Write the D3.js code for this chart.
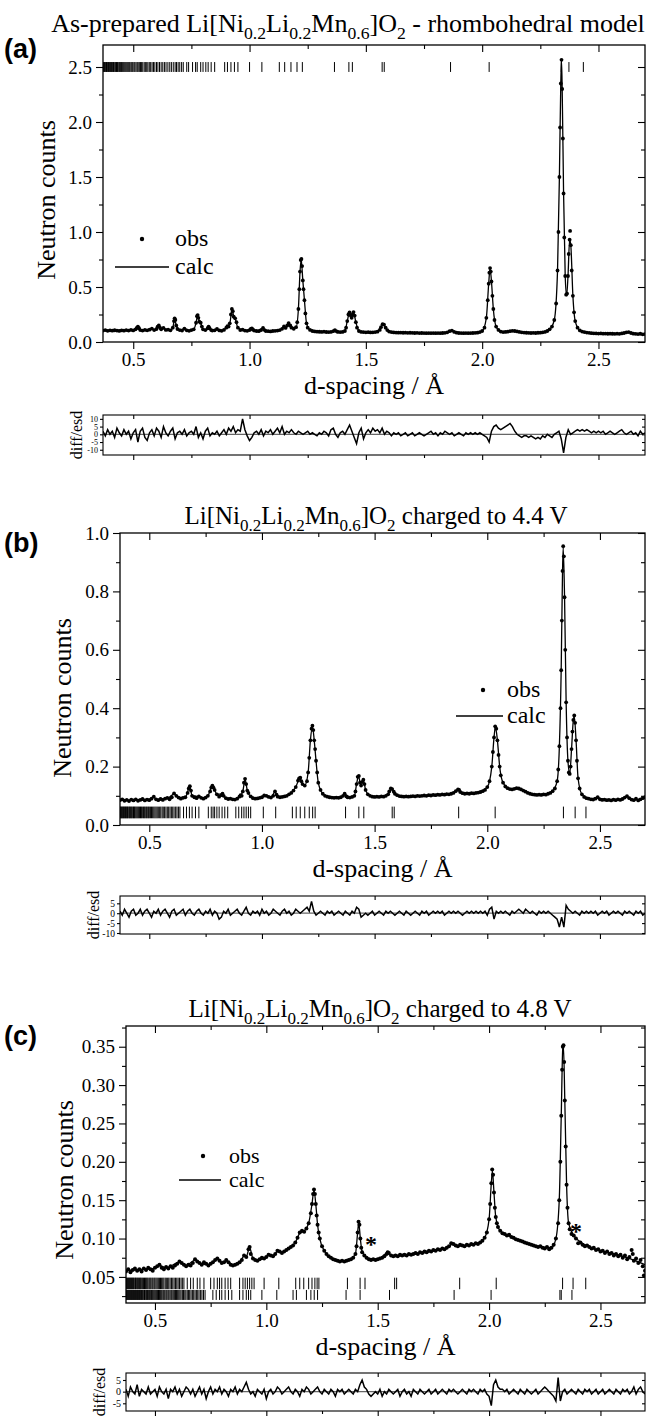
<!DOCTYPE html>
<html><head><meta charset="utf-8">
<script src="https://cdn.jsdelivr.net/npm/d3@7"></script>
<style>body{margin:0;background:#fff}svg{display:block}</style>
</head><body>
<svg id="chart" width="650" height="1416"></svg>
<script>
// ---------- DATA ----------
const xTickLabels = [0.5, 1.0, 1.5, 2.0, 2.5];
const xMinorTicks = [0.75, 1.25, 1.75, 2.25];

const dGrid = [0.37,0.38,0.39,0.40,0.41,0.42,0.43,0.44,0.45,0.46,0.47,0.48,0.49,0.50,0.51,0.52,0.53,0.54,0.55,0.56,
0.57,0.58,0.59,0.60,0.61,0.62,0.63,0.64,0.65,0.66,0.67,0.68,0.69,0.70,0.71,0.72,0.73,0.74,0.75,0.76,
0.77,0.78,0.79,0.80,0.81,0.82,0.83,0.84,0.85,0.86,0.87,0.88,0.89,0.90,0.91,0.92,0.93,0.94,0.95,0.96,
0.97,0.98,0.99,1.00,1.01,1.02,1.03,1.04,1.05,1.06,1.07,1.08,1.09,1.10,1.11,1.12,1.13,1.14,1.15,1.16,
1.17,1.18,1.19,1.20,1.21,1.22,1.23,1.24,1.25,1.26,1.27,1.28,1.29,1.30,1.31,1.32,1.33,1.34,1.35,1.36,
1.37,1.38,1.39,1.40,1.41,1.42,1.43,1.44,1.45,1.46,1.47,1.48,1.49,1.50,1.51,1.52,1.53,1.54,1.55,1.56,
1.57,1.58,1.59,1.60,1.61,1.62,1.63,1.64,1.65,1.66,1.67,1.68,1.69,1.70,1.71,1.72,1.73,1.74,1.75,1.76,
1.77,1.78,1.79,1.80,1.81,1.82,1.83,1.84,1.85,1.86,1.87,1.88,1.89,1.90,1.91,1.92,1.93,1.94,1.95,1.96,
1.97,1.98,1.99,2.00,2.01,2.02,2.03,2.04,2.05,2.06,2.07,2.08,2.09,2.10,2.11,2.12,2.13,2.14,2.15,2.16,
2.17,2.18,2.19,2.20,2.21,2.22,2.23,2.24,2.25,2.26,2.27,2.28,2.29,2.30,2.31,2.32,2.33,2.34,2.35,2.36,
2.37,2.38,2.39,2.40,2.41,2.42,2.43,2.44,2.45,2.46,2.47,2.48,2.49,2.50,2.51,2.52,2.53,2.54,2.55,2.56,
2.57,2.58,2.59,2.60,2.61,2.62,2.63,2.64,2.65,2.66,2.67,2.68,2.69,2.70];

// Panel (a) observed [d, counts]
const obsA = [[0.37,.104],[0.38,.108],[0.39,.102],[0.40,.106],[0.41,.103],[0.42,.107],[0.43,.104],[0.44,.101],[0.45,.106],[0.46,.103],[0.47,.108],[0.48,.104],[0.49,.11],[0.50,.105],[0.51,.115],[0.515,.128],[0.52,.14],[0.525,.125],[0.53,.108],[0.54,.104],[0.55,.11],[0.56,.106],[0.57,.112],[0.58,.122],[0.59,.108],[0.60,.118],[0.605,.14],[0.61,.15],[0.615,.13],[0.62,.116],[0.63,.128],[0.64,.11],[0.65,.112],[0.66,.106],[0.67,.13],[0.675,.19],[0.678,.215],[0.681,.2],[0.685,.15],[0.69,.118],[0.70,.108],[0.71,.104],[0.72,.122],[0.73,.106],[0.74,.102],[0.75,.108],[0.76,.115],[0.77,.175],[0.774,.235],[0.777,.245],[0.78,.22],[0.784,.185],[0.79,.175],[0.795,.14],[0.80,.115],[0.81,.108],[0.82,.125],[0.824,.14],[0.828,.125],[0.835,.108],[0.84,.104],[0.85,.106],[0.86,.118],[0.87,.105],[0.88,.102],[0.89,.11],[0.90,.13],[0.905,.145],[0.91,.14],[0.915,.17],[0.92,.25],[0.924,.3],[0.928,.28],[0.932,.23],[0.938,.215],[0.944,.18],[0.95,.13],[0.96,.108],[0.97,.112],[0.98,.104],[0.99,.102],[1.00,.108],[1.005,.118],[1.01,.124],[1.015,.112],[1.02,.104],[1.03,.1],[1.04,.098],[1.05,.108],[1.058,.128],[1.065,.108],[1.07,.1],[1.08,.098],[1.09,.096],[1.10,.1],[1.11,.102],[1.12,.104],[1.13,.108],[1.14,.12],[1.148,.142],[1.155,.128],[1.162,.15],[1.168,.172],[1.175,.15],[1.18,.13],[1.19,.12],[1.20,.135],[1.205,.18],[1.21,.3],[1.214,.48],[1.217,.64],[1.22,.745],[1.223,.755],[1.226,.69],[1.229,.56],[1.232,.48],[1.236,.38],[1.24,.26],[1.245,.17],[1.25,.13],[1.26,.11],[1.27,.1],[1.28,.096],[1.29,.094],[1.30,.093],[1.31,.092],[1.32,.094],[1.33,.091],[1.34,.09],[1.35,.092],[1.36,.098],[1.367,.108],[1.375,.096],[1.38,.092],[1.39,.09],[1.40,.092],[1.41,.1],[1.415,.13],[1.42,.19],[1.425,.25],[1.43,.27],[1.435,.24],[1.439,.22],[1.443,.25],[1.447,.272],[1.452,.24],[1.457,.18],[1.462,.13],[1.47,.1],[1.48,.092],[1.49,.09],[1.50,.088],[1.51,.089],[1.52,.087],[1.53,.088],[1.54,.09],[1.55,.094],[1.56,.11],[1.565,.135],[1.572,.162],[1.578,.158],[1.585,.13],[1.592,.108],[1.60,.095],[1.61,.09],[1.62,.087],[1.63,.086],[1.64,.085],[1.65,.086],[1.66,.084],[1.67,.085],[1.68,.083],[1.69,.084],[1.70,.083],[1.71,.082],[1.72,.083],[1.73,.081],[1.74,.082],[1.75,.081],[1.76,.08],[1.77,.081],[1.78,.08],[1.79,.081],[1.80,.08],[1.81,.081],[1.82,.08],[1.83,.082],[1.84,.083],[1.85,.088],[1.86,.098],[1.87,.104],[1.88,.092],[1.89,.085],[1.90,.082],[1.91,.081],[1.92,.08],[1.93,.081],[1.94,.08],[1.95,.081],[1.96,.082],[1.97,.083],[1.98,.085],[1.99,.09],[2.00,.1],[2.01,.13],[2.018,.22],[2.024,.38],[2.028,.53],[2.031,.63],[2.034,.672],[2.037,.64],[2.04,.55],[2.044,.42],[2.048,.3],[2.053,.2],[2.06,.14],[2.07,.11],[2.08,.095],[2.09,.09],[2.10,.092],[2.11,.094],[2.12,.098],[2.13,.102],[2.14,.1],[2.15,.096],[2.16,.092],[2.17,.088],[2.18,.086],[2.19,.084],[2.20,.083],[2.21,.082],[2.22,.083],[2.23,.082],[2.24,.084],[2.25,.085],[2.26,.088],[2.27,.092],[2.28,.1],[2.29,.115],[2.30,.14],[2.31,.2],[2.318,.35],[2.324,.65],[2.328,1.0],[2.332,1.5],[2.335,1.95],[2.338,2.35],[2.341,2.565],[2.344,2.3],[2.347,1.85],[2.35,1.35],[2.353,.95],[2.357,.6],[2.361,.43],[2.365,.44],[2.369,.6],[2.372,.8],[2.376,.93],[2.378,1.01],[2.381,.88],[2.385,.65],[2.39,.42],[2.395,.27],[2.40,.19],[2.41,.13],[2.42,.105],[2.43,.095],[2.44,.09],[2.45,.086],[2.46,.083],[2.47,.08],[2.48,.079],[2.49,.078],[2.50,.077],[2.51,.078],[2.52,.076],[2.53,.077],[2.54,.075],[2.55,.076],[2.56,.075],[2.57,.074],[2.58,.076],[2.59,.074],[2.60,.078],[2.61,.082],[2.62,.088],[2.63,.09],[2.64,.082],[2.65,.076],[2.66,.074],[2.67,.072],[2.68,.075],[2.69,.07],[2.70,.072]];

const calcA = [[0.37,.105],[0.40,.105],[0.45,.105],[0.50,.106],[0.51,.112],[0.52,.138],[0.53,.11],[0.56,.106],[0.58,.12],[0.59,.108],[0.60,.115],[0.61,.148],[0.62,.118],[0.63,.126],[0.64,.11],[0.66,.107],[0.67,.128],[0.678,.212],[0.685,.15],[0.70,.108],[0.72,.12],[0.74,.104],[0.76,.114],[0.77,.175],[0.777,.243],[0.784,.188],[0.79,.172],[0.80,.116],[0.815,.11],[0.824,.138],[0.835,.108],[0.86,.116],[0.88,.104],[0.90,.128],[0.905,.143],[0.915,.168],[0.925,.298],[0.932,.232],[0.938,.214],[0.95,.13],[0.97,.11],[0.99,.103],[1.01,.122],[1.03,.1],[1.058,.126],[1.07,.1],[1.10,.1],[1.13,.108],[1.148,.14],[1.155,.13],[1.168,.17],[1.18,.13],[1.20,.134],[1.21,.3],[1.217,.64],[1.222,.752],[1.229,.56],[1.236,.38],[1.245,.17],[1.26,.11],[1.30,.093],[1.35,.092],[1.367,.106],[1.39,.09],[1.41,.1],[1.42,.19],[1.43,.268],[1.439,.22],[1.447,.27],[1.457,.18],[1.47,.1],[1.50,.088],[1.55,.094],[1.565,.135],[1.575,.16],[1.592,.108],[1.62,.087],[1.70,.083],[1.80,.08],[1.85,.088],[1.87,.102],[1.89,.085],[1.95,.081],[2.00,.1],[2.018,.22],[2.028,.53],[2.034,.67],[2.04,.55],[2.048,.3],[2.06,.14],[2.08,.095],[2.13,.1],[2.18,.086],[2.25,.085],[2.29,.115],[2.31,.2],[2.324,.65],[2.332,1.5],[2.338,2.35],[2.341,2.56],[2.344,2.3],[2.35,1.35],[2.357,.6],[2.363,.42],[2.369,.6],[2.376,.93],[2.381,.88],[2.39,.42],[2.40,.19],[2.42,.105],[2.45,.086],[2.50,.077],[2.60,.077],[2.63,.09],[2.65,.076],[2.70,.072]];

const diffA = [2,-1,3,0,2,-2,4,1,-1,3, 0,2,-3,1,3,-5,2,4,-2,-4, 1,3,-1,4,2,-2,5,1,-1,2, 4,-3,1,2,0,3,-1,1,2,0,
5,-2,1,-3,2,4,-1,1,0,2, -1,1,3,0,4,2,5,1,3,2, 10,3,-1,-4,-2,1,2,0,3,-1, 2,1,3,0,2,4,1,5,0,2,
1,3,1,0,2,1,0,1,2,0, 1,0,-1,1,0,2,1,-1,3,4, 0,-2,1,2,0,3,6,2,-2,-6, 1,4,-3,1,3,1,4,2,3,1,
4,0,2,1,-1,1,0,1,-1,0, 1,-1,0,1,-1,0,1,0,-1,0, 1,2,0,1,-1,1,0,2,1,0, 1,-1,0,1,0,-1,1,0,1,0,
1,0,1,0,-1,-2,-5,2,5,6, 4,3,4,5,6,7,5,2,0,-1, -2,-1,-1,-2,-1,-2,-3,-2,-3,-1, -2,0,-1,-2,0,1,2,-3,-12,-2,
3,0,1,2,3,2,3,2,3,2, 1,2,1,2,1,2,0,1,2,1, 0,1,2,3,1,0,1,2,0,1, -1,2,0,1];

const reflA = [0.370,0.373,0.376,0.379,0.382,0.385,0.388,0.391,0.394,0.397,0.400,0.403,0.406,0.409,0.412,0.415,0.418,0.422,0.425,0.428,0.432,0.435,0.439,0.442,0.446,0.449,0.453,0.457,0.461,0.465,0.469,0.473,0.477,0.481,0.485,0.49,0.494,0.498,0.503,0.507,0.512,0.517,0.521,0.526,0.531,0.536,0.541,0.547,0.552,0.558,0.563,0.569,0.575,0.581,0.587,0.593,0.6,0.606,0.613,0.62,0.627,0.634,0.641,0.649,0.657,0.664,0.672,0.68,0.686,0.693,0.70,0.708,0.715,0.73,0.738,0.755,0.768,0.775,0.79,0.80,0.812,0.822,0.835,0.85,0.893,0.905,0.92,0.935,0.95,1.0,1.053,1.128,1.151,1.178,1.204,1.227,1.365,1.427,1.442,1.57,1.579,1.864,2.03,2.34,2.373,2.435];

// Panel (b)
const obsB = [[0.37,.085],[0.38,.088],[0.39,.083],[0.40,.086],[0.41,.082],[0.42,.087],[0.43,.084],[0.44,.088],[0.45,.083],[0.46,.086],[0.47,.089],[0.48,.084],[0.49,.087],[0.50,.085],[0.51,.09],[0.52,.097],[0.53,.088],[0.54,.085],[0.55,.089],[0.56,.086],[0.57,.09],[0.58,.093],[0.59,.088],[0.60,.095],[0.61,.108],[0.62,.1],[0.63,.094],[0.64,.09],[0.65,.093],[0.66,.095],[0.67,.11],[0.675,.125],[0.68,.133],[0.685,.118],[0.69,.1],[0.70,.095],[0.71,.092],[0.72,.098],[0.73,.093],[0.74,.09],[0.75,.094],[0.76,.1],[0.77,.115],[0.775,.128],[0.78,.135],[0.785,.128],[0.79,.12],[0.80,.105],[0.81,.097],[0.82,.102],[0.825,.107],[0.83,.1],[0.84,.092],[0.85,.089],[0.86,.09],[0.87,.088],[0.88,.087],[0.89,.09],[0.90,.097],[0.905,.102],[0.91,.1],[0.915,.115],[0.92,.145],[0.925,.158],[0.93,.14],[0.935,.118],[0.94,.11],[0.95,.098],[0.96,.092],[0.97,.09],[0.98,.091],[0.99,.093],[1.00,.095],[1.01,.101],[1.02,.1],[1.03,.096],[1.04,.094],[1.05,.1],[1.058,.115],[1.065,.104],[1.07,.097],[1.08,.095],[1.09,.096],[1.10,.098],[1.11,.1],[1.12,.105],[1.13,.11],[1.14,.118],[1.15,.13],[1.16,.152],[1.165,.16],[1.17,.162],[1.175,.15],[1.18,.14],[1.19,.135],[1.20,.15],[1.205,.18],[1.21,.23],[1.215,.29],[1.22,.33],[1.224,.34],[1.228,.325],[1.232,.29],[1.236,.26],[1.24,.22],[1.245,.18],[1.25,.145],[1.26,.12],[1.27,.107],[1.28,.1],[1.29,.097],[1.30,.095],[1.31,.094],[1.32,.093],[1.33,.094],[1.34,.093],[1.35,.095],[1.36,.1],[1.367,.107],[1.375,.098],[1.38,.095],[1.39,.094],[1.40,.096],[1.41,.1],[1.415,.115],[1.42,.14],[1.425,.165],[1.43,.168],[1.435,.145],[1.44,.135],[1.445,.148],[1.45,.155],[1.455,.14],[1.46,.12],[1.47,.105],[1.48,.1],[1.49,.097],[1.50,.096],[1.51,.097],[1.52,.096],[1.53,.098],[1.54,.097],[1.55,.1],[1.56,.105],[1.565,.115],[1.572,.125],[1.578,.123],[1.585,.114],[1.59,.107],[1.60,.102],[1.61,.099],[1.62,.098],[1.63,.097],[1.64,.098],[1.65,.097],[1.66,.098],[1.67,.099],[1.68,.098],[1.69,.1],[1.70,.099],[1.71,.1],[1.72,.101],[1.73,.1],[1.74,.102],[1.75,.101],[1.76,.103],[1.77,.102],[1.78,.104],[1.79,.103],[1.80,.105],[1.81,.104],[1.82,.106],[1.83,.105],[1.84,.107],[1.85,.11],[1.86,.116],[1.87,.122],[1.875,.12],[1.88,.113],[1.89,.109],[1.90,.107],[1.91,.108],[1.92,.107],[1.93,.109],[1.94,.108],[1.95,.11],[1.96,.111],[1.97,.113],[1.98,.116],[1.99,.12],[2.00,.13],[2.01,.15],[2.02,.2],[2.025,.25],[2.03,.3],[2.035,.338],[2.04,.33],[2.045,.29],[2.05,.24],[2.055,.2],[2.06,.17],[2.07,.145],[2.08,.132],[2.09,.126],[2.10,.123],[2.11,.122],[2.12,.124],[2.13,.126],[2.14,.125],[2.15,.122],[2.16,.118],[2.17,.114],[2.18,.11],[2.19,.107],[2.20,.105],[2.21,.104],[2.22,.103],[2.23,.104],[2.24,.103],[2.25,.105],[2.26,.104],[2.27,.107],[2.28,.11],[2.29,.116],[2.30,.125],[2.31,.15],[2.315,.19],[2.32,.27],[2.325,.4],[2.328,.53],[2.331,.7],[2.334,.87],[2.337,.955],[2.34,.92],[2.343,.78],[2.346,.6],[2.35,.42],[2.354,.3],[2.358,.22],[2.362,.18],[2.366,.175],[2.37,.2],[2.374,.26],[2.378,.32],[2.382,.36],[2.386,.375],[2.39,.35],[2.394,.29],[2.398,.22],[2.403,.16],[2.41,.125],[2.42,.105],[2.43,.096],[2.44,.092],[2.45,.09],[2.46,.088],[2.47,.087],[2.48,.09],[2.49,.095],[2.50,.088],[2.51,.086],[2.52,.087],[2.53,.085],[2.54,.086],[2.55,.084],[2.56,.087],[2.57,.085],[2.58,.088],[2.59,.086],[2.60,.089],[2.61,.094],[2.62,.099],[2.63,.092],[2.64,.087],[2.65,.085],[2.66,.09],[2.67,.084],[2.68,.088],[2.69,.092],[2.70,.095]];

const calcB = [[0.37,.085],[0.45,.085],[0.51,.089],[0.52,.096],[0.53,.088],[0.58,.091],[0.61,.106],[0.63,.094],[0.66,.095],[0.68,.132],[0.69,.1],[0.72,.097],[0.74,.092],[0.76,.1],[0.78,.134],[0.79,.12],[0.80,.105],[0.825,.106],[0.84,.092],[0.88,.088],[0.905,.101],[0.915,.115],[0.925,.156],[0.935,.118],[0.95,.098],[0.98,.092],[1.01,.1],[1.04,.095],[1.058,.113],[1.07,.097],[1.10,.098],[1.13,.11],[1.15,.13],[1.168,.16],[1.18,.14],[1.19,.136],[1.205,.18],[1.215,.29],[1.224,.338],[1.232,.29],[1.24,.22],[1.25,.145],[1.27,.107],[1.30,.095],[1.35,.095],[1.367,.106],[1.39,.094],[1.41,.1],[1.42,.14],[1.428,.167],[1.44,.135],[1.45,.154],[1.46,.12],[1.48,.1],[1.52,.096],[1.56,.105],[1.575,.124],[1.59,.107],[1.63,.097],[1.70,.099],[1.80,.104],[1.85,.11],[1.87,.121],[1.89,.109],[1.95,.11],[2.00,.13],[2.02,.2],[2.03,.3],[2.036,.336],[2.045,.29],[2.055,.2],[2.07,.145],[2.10,.123],[2.13,.126],[2.17,.114],[2.21,.104],[2.26,.105],[2.29,.116],[2.31,.15],[2.32,.27],[2.328,.53],[2.334,.87],[2.337,.95],[2.343,.78],[2.35,.42],[2.358,.22],[2.366,.175],[2.374,.26],[2.382,.36],[2.386,.372],[2.394,.29],[2.403,.16],[2.42,.105],[2.45,.09],[2.49,.093],[2.52,.087],[2.60,.088],[2.62,.097],[2.65,.086],[2.70,.092]];

const diffB = [1,-1,2,0,-2,1,2,-1,0,2, -1,1,2,0,-2,1,0,2,-1,1, 2,0,-2,1,2,-1,0,1,2,-1, 1,2,0,-1,1,2,0,-1,1,0,
2,-1,1,0,-3,-2,1,0,2,-1, 0,1,2,0,-1,1,3,0,-1,1, 0,1,-1,2,0,1,-1,0,2,1, 0,-1,1,2,0,1,-1,0,2,1,
0,1,2,3,1,6,1,-1,0,1, 0,-1,1,0,1,-1,0,1,0,-1, 1,0,-1,1,0,3,2,-2,-1,0, -1,0,1,-1,0,1,0,-1,1,0,
1,0,-1,0,1,0,-1,1,0,-1, 0,1,0,-1,1,0,1,-1,0,1, 0,1,0,1,-1,0,1,0,1,0, 1,0,-1,0,1,0,1,0,1,0,
1,0,1,-1,2,3,-3,1,0,1, 0,1,0,-1,1,0,1,2,1,0, 2,1,0,1,0,-1,1,0,1,0, 1,0,-1,-2,-3,-7,-2,-7,4,2,
1,0,1,0,-1,1,0,1,0,1, 0,1,-1,0,1,0,1,-1,0,1, 0,1,0,-1,1,0,1,0,-1,1, 0,1,-1,0];

const reflB = [0.370,0.373,0.376,0.379,0.382,0.385,0.388,0.391,0.394,0.397,0.400,0.403,0.406,0.41,0.413,0.416,0.42,0.423,0.427,0.43,0.434,0.437,0.441,0.445,0.449,0.453,0.457,0.461,0.465,0.469,0.474,0.478,0.482,0.487,0.491,0.496,0.50,0.505,0.51,0.515,0.52,0.525,0.53,0.535,0.54,0.546,0.551,0.557,0.562,0.568,0.574,0.58,0.586,0.592,0.598,0.604,0.61,0.617,0.623,0.63,0.636,0.652,0.665,0.678,0.69,0.705,0.72,0.762,0.775,0.783,0.79,0.80,0.81,0.823,0.835,0.848,0.884,0.897,0.91,0.92,0.93,0.94,0.95,1.006,1.061,1.135,1.152,1.17,1.19,1.21,1.225,1.236,1.371,1.43,1.452,1.578,1.587,1.873,2.035,2.338,2.39,2.438];

// Panel (c)
const obsC = [[0.37,.057],[0.38,.06],[0.39,.056],[0.40,.059],[0.41,.061],[0.42,.058],[0.43,.06],[0.44,.057],[0.45,.061],[0.46,.059],[0.47,.062],[0.48,.06],[0.49,.058],[0.50,.062],[0.51,.064],[0.52,.066],[0.53,.062],[0.54,.06],[0.55,.063],[0.56,.061],[0.57,.064],[0.58,.062],[0.59,.065],[0.60,.067],[0.61,.07],[0.62,.068],[0.63,.066],[0.64,.064],[0.65,.066],[0.66,.065],[0.67,.068],[0.68,.073],[0.69,.07],[0.70,.068],[0.71,.066],[0.72,.069],[0.73,.067],[0.74,.065],[0.75,.067],[0.76,.069],[0.77,.072],[0.78,.074],[0.79,.071],[0.80,.068],[0.81,.069],[0.82,.072],[0.83,.069],[0.84,.066],[0.85,.065],[0.86,.066],[0.87,.067],[0.88,.069],[0.89,.072],[0.90,.078],[0.91,.076],[0.92,.086],[0.925,.089],[0.93,.08],[0.94,.074],[0.95,.072],[0.96,.071],[0.97,.073],[0.98,.075],[0.99,.074],[1.00,.076],[1.01,.079],[1.02,.078],[1.03,.077],[1.04,.08],[1.05,.084],[1.06,.083],[1.07,.081],[1.08,.083],[1.09,.085],[1.10,.087],[1.11,.089],[1.12,.091],[1.13,.095],[1.14,.101],[1.15,.108],[1.16,.11],[1.17,.109],[1.18,.113],[1.19,.12],[1.20,.133],[1.205,.145],[1.21,.158],[1.214,.164],[1.218,.158],[1.222,.145],[1.226,.13],[1.23,.118],[1.235,.108],[1.24,.1],[1.25,.09],[1.26,.084],[1.27,.08],[1.28,.077],[1.29,.075],[1.30,.073],[1.31,.072],[1.32,.071],[1.33,.07],[1.34,.071],[1.35,.07],[1.36,.071],[1.37,.072],[1.38,.073],[1.39,.075],[1.40,.08],[1.405,.09],[1.41,.108],[1.414,.122],[1.418,.118],[1.422,.1],[1.426,.088],[1.43,.082],[1.44,.078],[1.45,.075],[1.46,.073],[1.47,.072],[1.48,.073],[1.49,.072],[1.50,.073],[1.51,.074],[1.52,.075],[1.53,.077],[1.54,.08],[1.545,.082],[1.55,.081],[1.56,.078],[1.57,.077],[1.58,.078],[1.59,.077],[1.60,.079],[1.61,.078],[1.62,.079],[1.63,.078],[1.64,.08],[1.65,.079],[1.66,.08],[1.67,.081],[1.68,.08],[1.69,.082],[1.70,.081],[1.71,.083],[1.72,.082],[1.73,.084],[1.74,.083],[1.75,.085],[1.76,.084],[1.77,.086],[1.78,.085],[1.79,.087],[1.80,.086],[1.81,.088],[1.82,.09],[1.83,.094],[1.84,.093],[1.85,.091],[1.86,.09],[1.87,.092],[1.88,.091],[1.89,.09],[1.90,.092],[1.91,.091],[1.92,.093],[1.93,.092],[1.94,.094],[1.95,.093],[1.96,.095],[1.97,.097],[1.98,.101],[1.99,.108],[2.00,.125],[2.005,.145],[2.01,.172],[2.014,.19],[2.018,.183],[2.022,.16],[2.026,.14],[2.03,.128],[2.035,.12],[2.04,.115],[2.05,.11],[2.06,.107],[2.07,.106],[2.08,.104],[2.09,.105],[2.10,.102],[2.11,.101],[2.12,.099],[2.13,.098],[2.14,.097],[2.15,.096],[2.16,.095],[2.17,.094],[2.18,.093],[2.19,.092],[2.20,.091],[2.21,.09],[2.22,.089],[2.23,.09],[2.24,.088],[2.25,.087],[2.26,.089],[2.27,.086],[2.28,.088],[2.29,.092],[2.30,.1],[2.31,.12],[2.315,.15],[2.32,.2],[2.324,.26],[2.328,.32],[2.331,.35],[2.334,.352],[2.337,.33],[2.34,.28],[2.344,.22],[2.348,.17],[2.352,.14],[2.357,.12],[2.362,.112],[2.37,.106],[2.38,.104],[2.39,.1],[2.40,.094],[2.41,.095],[2.42,.092],[2.43,.09],[2.44,.091],[2.45,.089],[2.46,.087],[2.47,.088],[2.48,.085],[2.49,.086],[2.50,.083],[2.51,.084],[2.52,.081],[2.53,.083],[2.54,.08],[2.55,.081],[2.56,.078],[2.57,.08],[2.58,.077],[2.59,.079],[2.60,.075],[2.61,.078],[2.62,.073],[2.63,.076],[2.64,.085],[2.645,.08],[2.65,.071],[2.66,.074],[2.67,.068],[2.68,.072],[2.69,.064],[2.695,.052],[2.70,.058]];

const calcC = [[0.37,.058],[0.45,.06],[0.50,.061],[0.52,.065],[0.55,.062],[0.61,.069],[0.64,.065],[0.68,.072],[0.70,.068],[0.74,.066],[0.78,.073],[0.80,.069],[0.82,.071],[0.85,.066],[0.88,.069],[0.90,.077],[0.91,.077],[0.925,.088],[0.94,.074],[0.96,.072],[1.00,.076],[1.01,.079],[1.03,.078],[1.05,.083],[1.07,.082],[1.10,.087],[1.13,.095],[1.15,.107],[1.17,.11],[1.19,.12],[1.205,.145],[1.214,.163],[1.222,.145],[1.23,.118],[1.24,.1],[1.26,.084],[1.29,.075],[1.33,.071],[1.37,.072],[1.40,.08],[1.41,.108],[1.415,.121],[1.422,.1],[1.43,.083],[1.46,.074],[1.50,.073],[1.545,.081],[1.57,.077],[1.65,.079],[1.75,.084],[1.82,.089],[1.835,.093],[1.86,.09],[1.95,.094],[1.98,.101],[2.00,.125],[2.01,.172],[2.015,.188],[2.022,.16],[2.03,.128],[2.05,.11],[2.10,.102],[2.20,.091],[2.28,.088],[2.30,.1],[2.315,.15],[2.324,.26],[2.331,.348],[2.334,.35],[2.34,.28],[2.348,.17],[2.357,.12],[2.38,.104],[2.45,.089],[2.55,.081],[2.62,.075],[2.70,.066]];

const diffC = [1,-2,2,0,-1,3,-2,1,0,-1, 2,-1,0,1,-2,2,0,-1,1,-3, 1,0,2,-1,1,-2,0,2,1,-1, 1,-2,0,2,-1,1,-3,0,2,-1,
1,0,2,-1,1,0,-2,1,0,2, -1,1,0,2,4,1,-1,0,-2,1, 0,-1,1,-3,0,1,-1,0,2,1, -1,0,1,2,0,-1,1,0,-2,1,
0,2,1,-1,0,1,2,0,-1,1, 0,-1,1,0,-2,1,0,1,-1,0, 1,0,-1,1,0,3,5,2,1,-1, -2,-1,0,-1,1,-2,0,-1,1,0,
-1,0,1,-2,0,1,-1,0,-2,1, 0,-1,1,0,-1,0,1,-1,0,1, -1,0,1,0,-1,1,0,1,0,-1, 0,1,0,-1,1,0,1,0,-1,1,
0,1,-1,-2,-6,3,5,2,1,1, 0,1,-1,0,1,0,-1,1,0,-1, 1,0,-1,0,1,-1,0,1,2,1, 0,-1,-2,-4,6,-4,0,1,-1,0,
1,0,-1,1,0,-1,1,0,1,-1, 0,1,-1,0,1,-1,0,1,0,-1, 1,0,-1,1,0,1,-1,0,2,-1, 1,2,0,-1];

const reflC1 = [0.370,0.373,0.376,0.379,0.382,0.385,0.388,0.391,0.394,0.397,0.400,0.403,0.406,0.41,0.413,0.416,0.42,0.423,0.427,0.43,0.434,0.437,0.441,0.445,0.449,0.453,0.457,0.461,0.465,0.469,0.474,0.478,0.482,0.487,0.491,0.496,0.50,0.505,0.51,0.515,0.52,0.525,0.53,0.535,0.54,0.546,0.551,0.557,0.562,0.568,0.574,0.58,0.586,0.592,0.598,0.604,0.61,0.617,0.623,0.63,0.645,0.66,0.672,0.69,0.702,0.72,0.75,0.765,0.78,0.79,0.80,0.815,0.828,0.84,0.88,0.895,0.905,0.915,0.925,0.935,0.945,0.99,1.056,1.132,1.15,1.168,1.19,1.205,1.218,1.228,1.236,1.364,1.421,1.443,1.576,1.585,1.868,2.032,2.33,2.377,2.434];
const reflC2 = [0.370,0.373,0.376,0.379,0.382,0.385,0.388,0.391,0.394,0.397,0.40,0.403,0.406,0.409,0.412,0.415,0.418,0.421,0.424,0.427,0.43,0.433,0.436,0.44,0.443,0.446,0.45,0.453,0.456,0.46,0.463,0.467,0.47,0.474,0.477,0.481,0.485,0.488,0.492,0.496,0.50,0.504,0.508,0.512,0.516,0.52,0.524,0.528,0.532,0.537,0.541,0.545,0.55,0.554,0.559,0.563,0.568,0.573,0.577,0.582,0.587,0.592,0.597,0.602,0.607,0.612,0.617,0.623,0.628,0.634,0.639,0.645,0.651,0.656,0.662,0.668,0.674,0.68,0.686,0.692,0.698,0.705,0.711,0.718,0.725,0.76,0.775,0.79,0.80,0.815,0.83,0.845,0.88,0.895,0.91,0.92,0.93,0.98,1.047,1.12,1.135,1.18,1.2,1.215,1.23,1.358,1.421,1.553,1.843,2.009,2.318,2.324,2.372];

// ---------- LAYOUT ----------
const SERIF = "'Liberation Serif','Times New Roman',serif";
const SANS = "'Liberation Sans',Arial,sans-serif";
const xDomain = [0.37, 2.70];
const svg = d3.select('#chart');

const panels = [
  {key:'a', left:103, right:645, top:45, bottom:342, yDomain:[0,2.7],
   yMajor:[0,0.5,1.0,1.5,2.0,2.5], yMinor:[0.25,0.75,1.25,1.75,2.25], yFmt:'.1f',
   obs:obsA, calc:calcA, diff:diffA, dTop:415, dBottom:455, dDomain:[-13.4,12.5], dTicks:[10,5,0,-5,-10], dFont:8,
   refl:[{list:reflA, y0:2.455, y1:2.545}],
   title:[['As-prepared Li[Ni',0],['0.2',1],['Li',0],['0.2',1],['Mn',0],['0.6',1],[']O',0],['2',1],[' - rhombohedral model',0]],
   titleX:348, titleY:32, titleSize:26, label:'(a)', labelY:58, ylabX:46, ylabY:200,
   legend:{dotX:142, dotY:239, lineX0:115, lineX1:169, lineY:267, textX:175, size:24}, dotR:1.9},
  {key:'b', left:120, right:645, top:533, bottom:825, yDomain:[0,1.0],
   yMajor:[0,0.2,0.4,0.6,0.8,1.0], yMinor:[0.1,0.3,0.5,0.7,0.9], yFmt:'.1f',
   obs:obsB, calc:calcB, diff:diffB, dTop:896, dBottom:934, dDomain:[-10.5,8.7], dTicks:[5,0,-5,-10], dFont:9.5,
   refl:[{list:reflB, y0:0.023, y1:0.063}],
   title:[['Li[Ni',0],['0.2',1],['Li',0],['0.2',1],['Mn',0],['0.6',1],[']O',0],['2',1],[' charged to 4.4 V',0]],
   titleX:376, titleY:524, titleSize:25, label:'(b)', labelY:552, ylabX:62, ylabY:698,
   legend:{dotX:483, dotY:690, lineX0:456, lineX1:503, lineY:716, textX:507, size:24}, dotR:1.9},
  {key:'c', left:126, right:645, top:1026, bottom:1303, yDomain:[0.016,0.377],
   yMajor:[0.05,0.10,0.15,0.20,0.25,0.30,0.35], yMinor:[0.025,0.075,0.125,0.175,0.225,0.275,0.325,0.375], yFmt:'.2f',
   obs:obsC, calc:calcC, diff:diffC, dTop:1373, dBottom:1411, dDomain:[-8.3,8.0], dTicks:[5,0,-5], dFont:10,
   refl:[{list:reflC1, y0:0.034, y1:0.049},{list:reflC2, y0:0.020, y1:0.033}],
   title:[['Li[Ni',0],['0.2',1],['Li',0],['0.2',1],['Mn',0],['0.6',1],[']O',0],['2',1],[' charged to 4.8 V',0]],
   titleX:380, titleY:1017, titleSize:25, label:'(c)', labelY:1045, ylabX:64, ylabY:1180,
   legend:{dotX:203, dotY:1156, lineX0:179, lineX1:221, lineY:1180, textX:229, size:22}, dotR:2.0,
   stars:[[1.47,0.096],[2.39,0.113]]}
];

function styleAxis(g, fontSize) {
  g.select('.domain').remove();
  g.selectAll('line').attr('stroke','#000').attr('stroke-width',1.1);
  g.selectAll('text').attr('font-family',SERIF).attr('font-size',fontSize).attr('fill','#000');
}

panels.forEach(P => {
  const x = d3.scaleLinear().domain(xDomain).range([P.left, P.right]);
  const y = d3.scaleLinear().domain(P.yDomain).range([P.bottom, P.top]);
  const g = svg.append('g');
  const clipId = 'clip-' + P.key;
  svg.append('clipPath').attr('id', clipId).append('rect')
    .attr('x', P.left).attr('y', P.top).attr('width', P.right-P.left).attr('height', P.bottom-P.top);

  // title with subscripts
  const t = g.append('text').attr('x', P.titleX).attr('y', P.titleY).attr('text-anchor','middle')
    .attr('font-family', SERIF).attr('font-size', P.titleSize).attr('fill','#000');
  let sub = false;
  P.title.forEach(([s, isSub]) => {
    const ts = t.append('tspan').text(s);
    if (isSub && !sub) { ts.attr('dy', 7).attr('font-size', P.titleSize*0.68); sub = true; }
    else if (isSub) { ts.attr('font-size', P.titleSize*0.68); }
    else if (!isSub && sub) { ts.attr('dy', -7); sub = false; }
  });

  // panel label
  g.append('text').attr('x', 4).attr('y', P.labelY).attr('font-family', SANS).attr('font-weight','bold')
    .attr('font-size', 27).text(P.label);

  // axes main
  const ax = g.append('g');
  ax.append('g').attr('transform',`translate(0,${P.bottom})`)
    .call(d3.axisBottom(x).tickValues(xTickLabels).tickFormat(d3.format('.1f')).tickSize(7).tickPadding(4))
    .call(s => styleAxis(s, 19));
  ax.append('g').attr('transform',`translate(0,${P.bottom})`)
    .call(d3.axisBottom(x).tickValues(xMinorTicks).tickFormat('').tickSize(4)).call(s => styleAxis(s, 19));
  ax.append('g').attr('transform',`translate(0,${P.top})`)
    .call(d3.axisTop(x).tickValues(xTickLabels).tickFormat('').tickSize(-7)).call(s => styleAxis(s, 19));
  ax.append('g').attr('transform',`translate(0,${P.top})`)
    .call(d3.axisTop(x).tickValues(xMinorTicks).tickFormat('').tickSize(-4)).call(s => styleAxis(s, 19));
  const yMin = P.yMinor.filter(v=>v>=P.yDomain[0]&&v<=P.yDomain[1]);
  ax.append('g').attr('transform',`translate(${P.left},0)`)
    .call(d3.axisLeft(y).tickValues(P.yMajor).tickFormat(d3.format(P.yFmt)).tickSize(7).tickPadding(4))
    .call(s => styleAxis(s, 19));
  ax.append('g').attr('transform',`translate(${P.left},0)`)
    .call(d3.axisLeft(y).tickValues(yMin).tickFormat('').tickSize(4)).call(s => styleAxis(s, 19));
  ax.append('g').attr('transform',`translate(${P.right},0)`)
    .call(d3.axisRight(y).tickValues(P.yMajor).tickFormat('').tickSize(-7)).call(s => styleAxis(s, 19));
  ax.append('g').attr('transform',`translate(${P.right},0)`)
    .call(d3.axisRight(y).tickValues(yMin).tickFormat('').tickSize(-4)).call(s => styleAxis(s, 19));

  // reflection tick marks
  const data = g.append('g').attr('clip-path', `url(#${clipId})`);
  P.refl.forEach(r => {
    data.append('g').selectAll('line').data(r.list).join('line')
      .attr('x1', d => x(d)).attr('x2', d => x(d)).attr('y1', y(r.y0)).attr('y2', y(r.y1))
      .attr('stroke','#000').attr('stroke-width',1);
  });

  // calc line
  const obsSorted = P.obs.slice().sort((a,b)=>a[0]-b[0]);
  data.append('path').datum(P.calc)
    .attr('d', d3.line().x(d=>x(d[0])).y(d=>y(d[1])).curve(d3.curveMonotoneX))
    .attr('fill','none').attr('stroke','#000').attr('stroke-width',1.3);
  // obs dots
  data.append('g').selectAll('circle').data(obsSorted).join('circle')
    .attr('cx', d=>x(d[0])).attr('cy', d=>y(d[1])).attr('r', P.dotR).attr('fill','#000');

  // frame
  g.append('rect').attr('x',P.left).attr('y',P.top).attr('width',P.right-P.left).attr('height',P.bottom-P.top)
    .attr('fill','none').attr('stroke','#000').attr('stroke-width',1.3);

  // stars
  if (P.stars) {
    g.selectAll('.star').data(P.stars).join('text').attr('class','star')
      .attr('x', d=>x(d[0])).attr('y', d=>y(d[1])+10).attr('text-anchor','middle')
      .attr('font-family', SERIF).attr('font-weight','bold').attr('font-size',24).text('*');
  }

  // axis titles
  g.append('text').attr('transform',`translate(${P.ylabX},${P.ylabY}) rotate(-90)`)
    .attr('text-anchor','middle').attr('dominant-baseline','central')
    .attr('font-family',SERIF).attr('font-size',26).text('Neutron counts');
  g.append('text').attr('x',(P.left+P.right)/2).attr('y',P.bottom+52).attr('text-anchor','middle')
    .attr('font-family',SERIF).attr('font-size',26).text('d-spacing / Å');

  // legend
  const L = P.legend;
  g.append('circle').attr('cx',L.dotX).attr('cy',L.dotY).attr('r',2.2).attr('fill','#000');
  g.append('text').attr('x',L.textX).attr('y',L.dotY+7).attr('font-family',SERIF).attr('font-size',L.size).text('obs');
  g.append('line').attr('x1',L.lineX0).attr('x2',L.lineX1).attr('y1',L.lineY).attr('y2',L.lineY)
    .attr('stroke','#000').attr('stroke-width',1.4);
  g.append('text').attr('x',L.textX).attr('y',L.lineY+7).attr('font-family',SERIF).attr('font-size',L.size).text('calc');

  // difference plot
  const yd = d3.scaleLinear().domain(P.dDomain).range([P.dBottom, P.dTop]);
  const dg = g.append('g');
  const dClip = 'dclip-' + P.key;
  svg.append('clipPath').attr('id', dClip).append('rect')
    .attr('x', P.left).attr('y', P.dTop).attr('width', P.right-P.left).attr('height', P.dBottom-P.dTop);
  dg.append('g').attr('transform',`translate(0,${P.dBottom})`)
    .call(d3.axisBottom(x).tickValues(xTickLabels).tickFormat('').tickSize(5)).call(s=>styleAxis(s,10));
  dg.append('g').attr('transform',`translate(0,${P.dBottom})`)
    .call(d3.axisBottom(x).tickValues(xMinorTicks).tickFormat('').tickSize(3)).call(s=>styleAxis(s,10));
  dg.append('g').attr('transform',`translate(0,${P.dTop})`)
    .call(d3.axisTop(x).tickValues(xTickLabels).tickFormat('').tickSize(-4)).call(s=>styleAxis(s,10));
  dg.append('g').attr('transform',`translate(${P.left},0)`)
    .call(d3.axisLeft(yd).tickValues(P.dTicks).tickFormat(d=>String(d)).tickSize(3).tickPadding(2))
    .call(s=>styleAxis(s,P.dFont));
  dg.append('g').attr('transform',`translate(${P.right},0)`)
    .call(d3.axisRight(yd).tickValues(P.dTicks).tickFormat('').tickSize(-3)).call(s=>styleAxis(s,10));
  const dd = dg.append('g').attr('clip-path',`url(#${dClip})`);
  dd.append('line').attr('x1',P.left).attr('x2',P.right).attr('y1',yd(0)).attr('y2',yd(0))
    .attr('stroke','#666').attr('stroke-width',1.2);
  dd.append('path').datum(P.diff)
    .attr('d', d3.line().x((d,i)=>x(dGrid[i])).y(d=>yd(d)))
    .attr('fill','none').attr('stroke','#000').attr('stroke-width',1.5);
  dg.append('rect').attr('x',P.left).attr('y',P.dTop).attr('width',P.right-P.left).attr('height',P.dBottom-P.dTop)
    .attr('fill','none').attr('stroke','#000').attr('stroke-width',1.1);
  dg.append('text').attr('transform',`translate(${P.left-27},${(P.dTop+P.dBottom)/2}) rotate(-90)`)
    .attr('text-anchor','middle').attr('dominant-baseline','central')
    .attr('font-family',SERIF).attr('font-size',16).text('diff/esd');
});
</script>
</body></html>
